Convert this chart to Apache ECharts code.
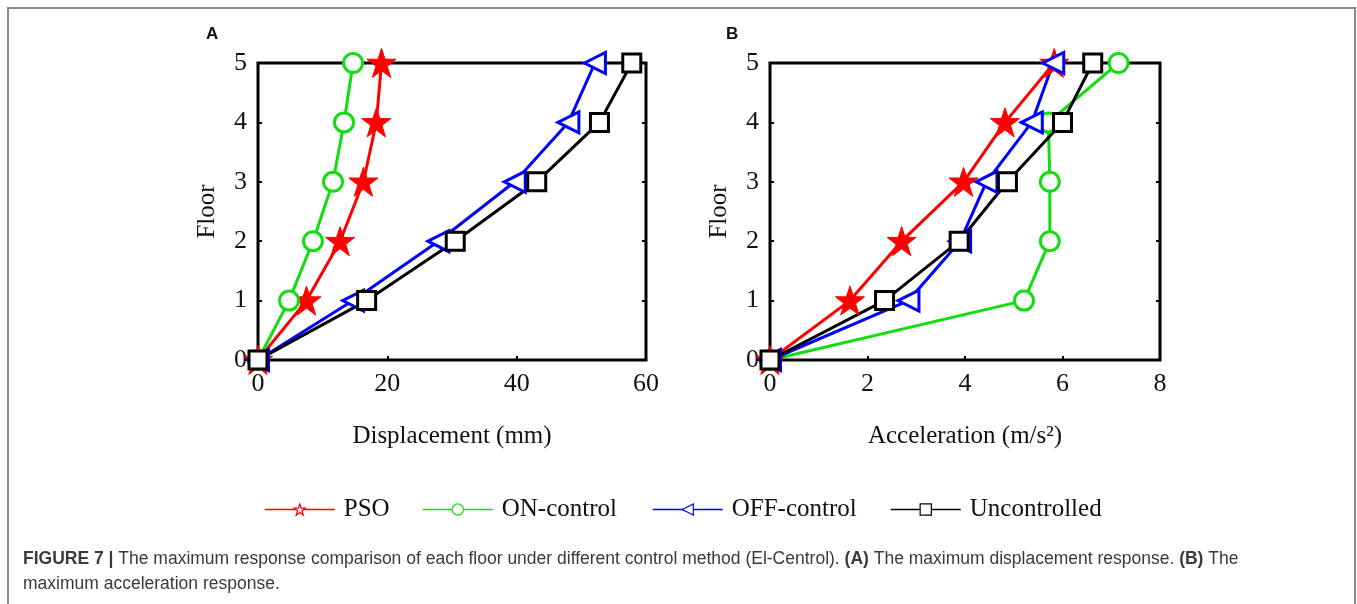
<!DOCTYPE html>
<html>
<head>
<meta charset="utf-8">
<script src="https://cdn.jsdelivr.net/npm/echarts@6/dist/echarts.min.js"></script>
<style>
  html, body { margin: 0; padding: 0; background: #fff; }
  #chart { width: 1357px; height: 604px; }
</style>
</head>
<body>
<div id="chart"></div>
<script>
// floors (y axis) and the max responses
const floors = [0, 1, 2, 3, 4, 5];
const xTicksDisp = [0, 20, 40, 60];
const xTicksAcc = [0, 2, 4, 6, 8];

// (A) displacement, mm
const dispPSO = [0, 7.5, 12.7, 16.3, 18.3, 19.1];
const dispON = [0, 4.8, 8.5, 11.6, 13.3, 14.7];
const dispOFF = [0, 14.7, 27.9, 39.7, 48.0, 52.1];
const dispUnc = [0, 16.8, 30.5, 43.1, 52.8, 57.8];

// (B) acceleration, m/s2
const accPSO = [0, 1.64, 2.70, 3.97, 4.82, 5.83];
const accON = [0, 5.21, 5.74, 5.74, 5.71, 7.15];
const accOFF = [0, 2.84, 3.90, 4.44, 5.37, 5.81];
const accUnc = [0, 2.35, 3.88, 4.87, 6.00, 6.62];

const serif = "'Liberation Serif', 'Times New Roman', serif";
const sans = "'Liberation Sans', Arial, sans-serif";
const STAR = 'path://M50,0 L62,34 L99,34 L69,56 L81,92 L50,70 L19,92 L31,56 L1,34 L38,34 Z';

const styles = {
  PSO: { color: '#ff0000', symbol: STAR, size: 29, filled: true },
  'ON-control': { color: '#11dd11', symbol: 'circle', size: 19 },
  'OFF-control': { color: '#0000ff', symbol: 'triangle', size: 21, rotate: 90 },
  Uncontrolled: { color: '#000000', symbol: 'rect', size: 18 }
};

function pairs(xs) {
  return xs.map((x, i) => [x, floors[i]]);
}

function makeSeries(name, xs, idx) {
  const s = styles[name];
  return {
    name: name,
    type: 'line',
    xAxisIndex: idx,
    yAxisIndex: idx * 2,
    data: pairs(xs),
    clip: false,
    symbol: s.symbol,
    symbolSize: s.size,
    symbolRotate: s.rotate || 0,
    showAllSymbol: true,
    lineStyle: { color: s.color, width: 3 },
    itemStyle: {
      color: s.filled ? s.color : '#fff',
      borderColor: s.color,
      borderWidth: s.filled ? 1 : 3
    },
    emphasis: { disabled: true }
  };
}

function xAxis(idx, max, interval, name) {
  return {
    type: 'value', gridIndex: idx, min: 0, max: max, interval: interval,
    name: name, nameLocation: 'middle', nameGap: 64,
    nameTextStyle: { fontFamily: serif, fontSize: 25, color: '#111' },
    axisLine: { show: false },
    axisTick: { show: true, inside: true, length: 4, lineStyle: { color: '#000', width: 2 } },
    axisLabel: { fontFamily: serif, fontSize: 26, color: '#111', margin: 11 },
    splitLine: { show: false }
  };
}

function yAxes(idx) {
  return [{
    type: 'value', gridIndex: idx, min: 0, max: 5, interval: 1,
    name: 'Floor', nameLocation: 'middle', nameGap: 38,
    nameTextStyle: { fontFamily: serif, fontSize: 25, color: '#111' },
    axisLine: { show: false },
    axisTick: { show: true, inside: true, length: 4, lineStyle: { color: '#000', width: 2 } },
    axisLabel: { fontFamily: serif, fontSize: 26, color: '#111', margin: 11 },
    splitLine: { show: false }
  }, {
    type: 'value', gridIndex: idx, min: 0, max: 5, interval: 1, position: 'right',
    axisLine: { show: false },
    axisTick: { show: true, inside: true, length: 4, lineStyle: { color: '#000', width: 2 } },
    axisLabel: { show: false },
    splitLine: { show: false }
  }];
}

function legend(name, left) {
  const s = styles[name];
  return {
    left: left, top: 492,
    itemWidth: 70, itemHeight: 14,
    selectedMode: false,
    data: [{ name: name, itemStyle: { color: '#fff', borderColor: s.color, borderWidth: 1.2 } }],
    lineStyle: { width: 1.5 },
    textStyle: { fontFamily: serif, fontSize: 25, color: '#111', padding: [0, 0, 0, 4] }
  };
}

const chart = echarts.init(document.getElementById('chart'));

chart.setOption({
  animation: false,
  backgroundColor: '#fff',
  title: [
    { text: 'A', left: 201, top: 21, textStyle: { fontFamily: sans, fontWeight: 'bold', fontSize: 17, color: '#111' } },
    { text: 'B', left: 721, top: 21, textStyle: { fontFamily: sans, fontWeight: 'bold', fontSize: 17, color: '#111' } },
    {
      left: 18, top: 542,
      text: '{b|FIGURE 7 |} The maximum response comparison of each floor under different control method (El-Centrol). {b|(A)} The maximum displacement response. {b|(B)} The\nmaximum acceleration response.',
      textStyle: {
        fontFamily: sans, fontSize: 17.5, fontWeight: 'normal', color: '#3a3a3a', lineHeight: 25,
        rich: { b: { fontFamily: sans, fontSize: 17.5, fontWeight: 'bold', color: '#3a3a3a', lineHeight: 25 } }
      }
    }
  ],
  graphic: [{
    type: 'rect', silent: true,
    shape: { x: 8, y: 8, width: 1347, height: 620 },
    style: { fill: 'none', stroke: '#8a8a8a', lineWidth: 2 }
  }],
  grid: [
    { left: 258, top: 63, width: 388, height: 297, show: true, borderColor: '#000', borderWidth: 3, backgroundColor: 'transparent' },
    { left: 770, top: 63, width: 390, height: 297, show: true, borderColor: '#000', borderWidth: 3, backgroundColor: 'transparent' }
  ],
  xAxis: [
    xAxis(0, xTicksDisp[xTicksDisp.length - 1], xTicksDisp[1] - xTicksDisp[0], 'Displacement (mm)'),
    xAxis(1, xTicksAcc[xTicksAcc.length - 1], xTicksAcc[1] - xTicksAcc[0], 'Acceleration (m/s²)')
  ],
  yAxis: yAxes(0).concat(yAxes(1)),
  legend: [
    legend('PSO', 259),
    legend('ON-control', 417),
    legend('OFF-control', 647),
    legend('Uncontrolled', 885)
  ],
  series: [
    makeSeries('PSO', dispPSO, 0),
    makeSeries('ON-control', dispON, 0),
    makeSeries('OFF-control', dispOFF, 0),
    makeSeries('Uncontrolled', dispUnc, 0),
    makeSeries('PSO', accPSO, 1),
    makeSeries('ON-control', accON, 1),
    makeSeries('OFF-control', accOFF, 1),
    makeSeries('Uncontrolled', accUnc, 1)
  ]
});

window.addEventListener('resize', () => chart.resize());
</script>
</body>
</html>
